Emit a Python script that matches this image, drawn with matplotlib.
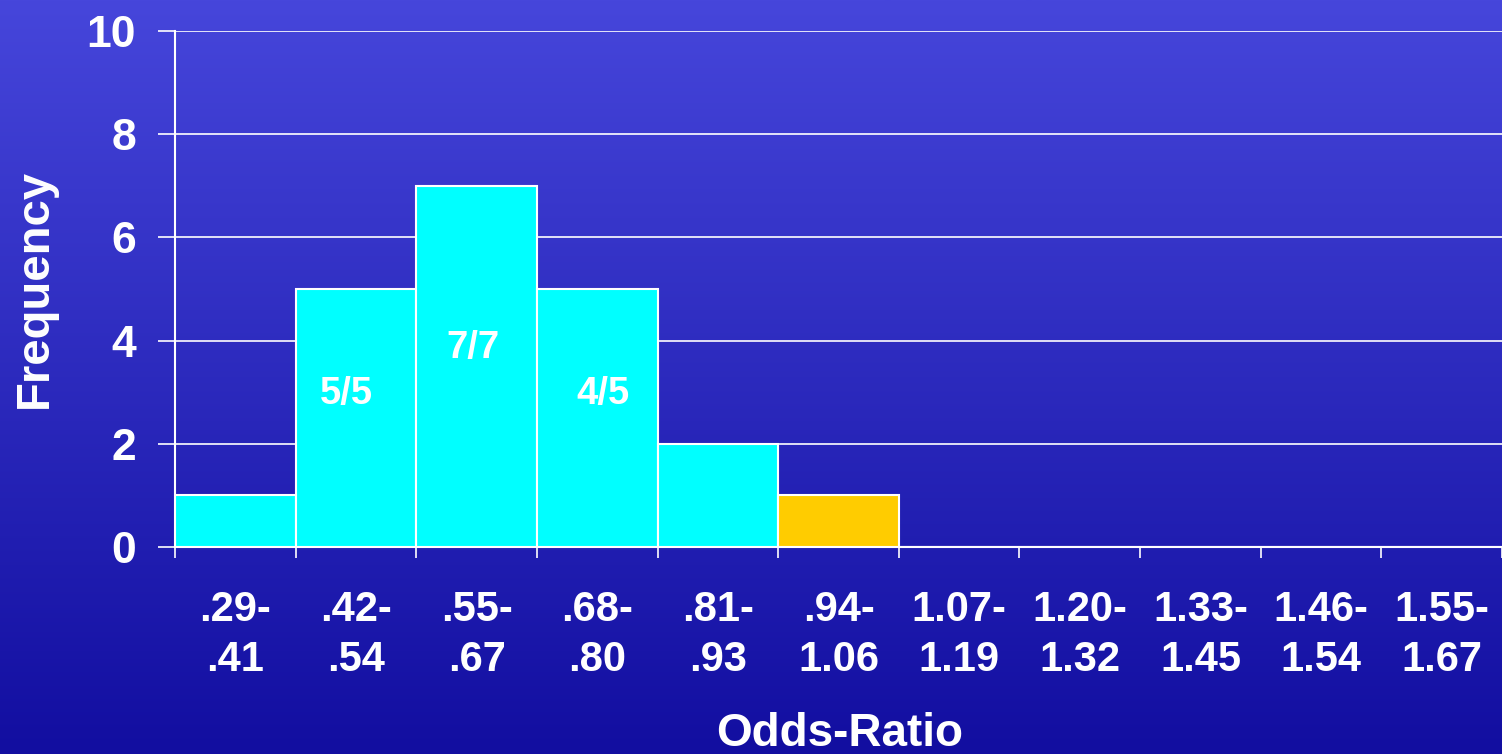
import numpy as np
import matplotlib
matplotlib.use("Agg")
import matplotlib.pyplot as plt
from matplotlib.colors import LinearSegmentedColormap

# ---- data ----
bin_labels = [".29-\n.41", ".42-\n.54", ".55-\n.67", ".68-\n.80", ".81-\n.93",
              ".94-\n1.06", "1.07-\n1.19", "1.20-\n1.32", "1.33-\n1.45",
              "1.46-\n1.54", "1.55-\n1.67"]
frequency = [1, 5, 7, 5, 2, 1, 0, 0, 0, 0, 0]
bar_colors = ["#00FFFF"] * 5 + ["#FFCC00"] + ["#00FFFF"] * 5
annot_bins = [1, 2, 3]
annot_texts = ["5/5", "7/7", "4/5"]
annot_y = [2.96, 3.86, 2.96]
annot_dx = [-0.08, -0.03, 0.05]
y_ticks = [0, 2, 4, 6, 8, 10]

plt.rcParams['font.family'] = ['Liberation Sans', 'DejaVu Sans']
plt.rcParams['font.weight'] = 'bold'

W, H = 1502, 754
fig = plt.figure(figsize=(W / 100, H / 100), dpi=100)

# gradient background
bg = fig.add_axes([0, 0, 1, 1], zorder=0)
cmap = LinearSegmentedColormap.from_list("bg", ["#4646DB", "#120EA0"])
grad = np.linspace(0, 1, 256).reshape(-1, 1)
bg.imshow(grad, aspect="auto", cmap=cmap, extent=[0, 1, 0, 1], origin="upper")
bg.set_axis_off()

left, right = 175 / W, 1.0
bottom, top = 1 - 547 / H, 1 - 31 / H
ax = fig.add_axes([left, bottom, right - left, top - bottom], zorder=1)
ax.set_facecolor("none")

x = np.arange(len(frequency))
ax.bar(x, frequency, width=1.0, color=bar_colors, edgecolor="white",
       linewidth=1.5, zorder=3)

for b, t, yv, dx in zip(annot_bins, annot_texts, annot_y, annot_dx):
    ax.text(b + dx, yv, t, color="white", fontsize=27.5, fontweight="bold",
            ha="center", va="center", zorder=4)

ax.set_xlim(-0.5, len(frequency) - 0.5)
ax.set_ylim(0, 10)
ax.set_yticks(y_ticks)
ax.yaxis.grid(True, color="white", linewidth=1.2, zorder=1)
ax.set_axisbelow(True)

# major x ticks at bin centres (labels only), minor ticks at bin edges
ax.set_xticks(x)
ax.set_xticklabels(bin_labels, fontsize=30, fontweight="bold", color="white",
                   linespacing=1.32)
ax.tick_params(axis="x", which="major", length=0, pad=31)
ax.set_xticks(np.arange(-0.5, len(frequency)), minor=True)
ax.tick_params(axis="x", which="minor", length=8, width=1.2, color="white",
               direction="out")
ax.tick_params(axis="y", length=12, width=1.2, color="white", pad=16,
               labelsize=32, labelcolor="white")
for lbl in ax.get_yticklabels():
    lbl.set_fontweight("bold")

for s in ["top", "right"]:
    ax.spines[s].set_visible(False)
for s in ["left", "bottom"]:
    ax.spines[s].set_color("white")
    ax.spines[s].set_linewidth(1.5)

fig.text(35 / W, 1 - 289 / H, "Frequency", rotation=90, color="white",
         fontsize=34, fontweight="bold", ha="center", va="center")
fig.text(840 / W, 1 - 734 / H, "Odds-Ratio", color="white",
         fontsize=33, fontweight="bold", ha="center", va="center")

fig.savefig("out.png", dpi=100)
